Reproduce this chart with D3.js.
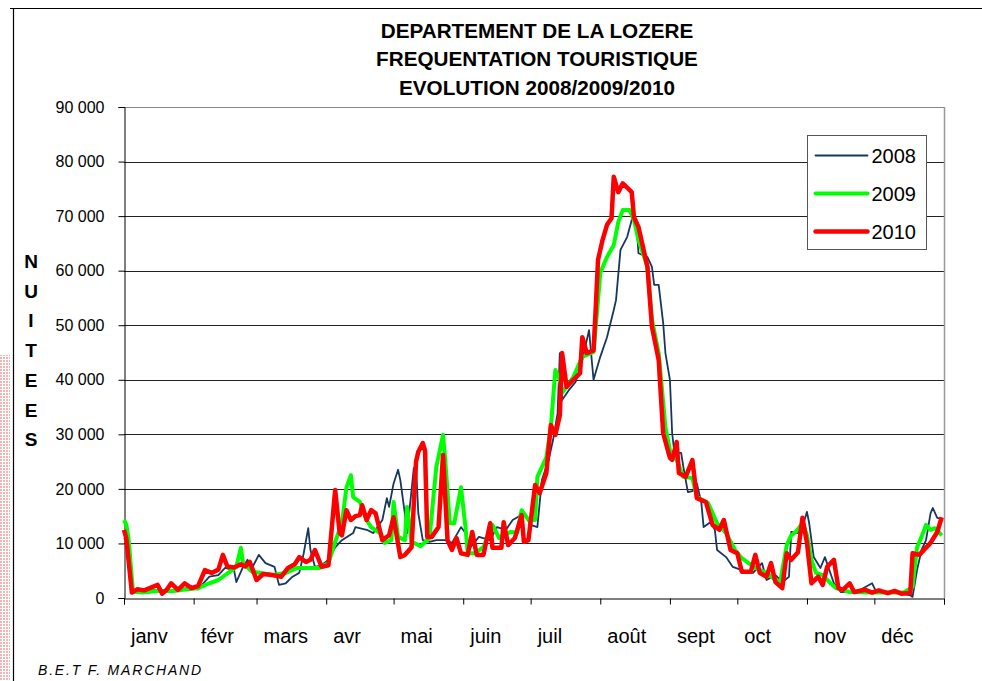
<!DOCTYPE html>
<html lang="fr">
<head>
<meta charset="UTF-8">
<title>Lozère fréquentation</title>
<script src="https://cdn.jsdelivr.net/npm/d3@7/dist/d3.min.js"></script>
<style>
  body { margin: 0; background: #fff; }
  text { font-family: "Liberation Sans", Arial, sans-serif; }
</style>
</head>
<body>
<svg width="982" height="681" id="mainsvg"></svg>
<script>
// month boundaries (day of year) and labels
const monthStarts = [0, 31, 59, 90, 120, 151, 181, 212, 243, 273, 304, 334, 365];
const monthLabels = ['janv', 'févr', 'mars', 'avr', 'mai', 'juin', 'juil', 'août', 'sept', 'oct', 'nov', 'déc'];
const yTicks = [0, 10, 20, 30, 40, 50, 60, 70, 80, 90]; // thousands

// nuitées in thousands, [day, value]
const s2008 = [[0,11],[2,10],[4,1.5],[8,1.2],[15,1.5],[22,1.4],[28,1.8],[33,1.6],[38,3.9],[42,4.2],[45,5.5],[49,5.1],[50,2.9],[53,5.7],[55,7],[57,5.5],[60,7.9],[63,6.4],[67,5.7],[69,2.4],[72,2.7],[75,3.9],[78,4.6],[80,8.2],[82,12.8],[83,8.8],[85,5.7],[88,6],[91,7],[94,9.3],[97,10.6],[102,11.9],[103,13],[108,12.5],[111,11.9],[115,14.3],[117,18.3],[118,16.7],[120,21],[122,23.5],[123,21.6],[125,15.5],[126,11.9],[128,19.8],[129,23.8],[130,24],[131,15.5],[133,10.6],[136,10.3],[139,10.6],[143,10.6],[146,10.1],[150,13],[152,11.9],[154,9.2],[158,11.2],[163,10.6],[166,13],[170,12.5],[173,14.3],[178,15.5],[181,13.4],[184,13],[186,21.6],[189,25.3],[191,29],[193,33.9],[194,44.9],[195,36.3],[198,38.1],[201,39.6],[204,43.6],[207,49.1],[209,40],[212,44.2],[215,47.8],[218,52.8],[219,54.6],[221,63.8],[224,66.2],[226,69.3],[228,69.3],[229,63.2],[233,62.5],[235,60.7],[236,57.4],[238,57.4],[240,50.4],[241,44.9],[243,40],[244,30.2],[245,26.6],[248,26.6],[249,24],[251,19.4],[253,19.6],[255,21],[257,17.4],[258,13],[261,13.9],[263,12.5],[264,8.8],[268,7.5],[271,5.7],[275,5.1],[280,4.6],[284,6.4],[286,3.3],[290,4.2],[293,2.9],[296,3.9],[297,12.1],[300,11.9],[302,13],[304,15.8],[305,13.7],[307,7.5],[310,5.5],[312,7.5],[314,5.1],[316,2.7],[319,1.1],[326,1.1],[333,2.7],[335,1.0],[345,1.0],[350,0.5],[351,0.2],[353,5.1],[355,8.8],[357,10.6],[359,15.5],[360,16.5],[362,14.7],[364,14.5]];
const s2009 = [[0,14.3],[1,13.5],[2,11],[4,1.2],[8,1.0],[15,1.3],[22,1.3],[28,1.6],[33,1.8],[38,2.7],[42,3.3],[47,4.8],[50,5.7],[52,9.2],[53,6.4],[57,4.8],[61,4.6],[66,4.2],[72,4.6],[77,5.5],[79,5.5],[87,5.5],[91,6.4],[94,10.3],[97,13.7],[99,20.2],[101,22.5],[102,18.5],[105,17.6],[108,14.3],[110,13],[114,11.9],[116,10.1],[119,10.6],[120,17.6],[122,11.2],[125,10.6],[126,16.7],[128,10.3],[132,9.5],[136,11],[139,24],[142,29.9],[143,25.3],[145,13.7],[147,13.7],[150,20.3],[152,13],[153,8.2],[156,8.2],[160,9.3],[164,13.4],[167,11],[172,12.1],[175,12],[177,16.1],[180,14.3],[183,14.3],[184,22.2],[188,25.8],[190,31.3],[192,41.8],[194,40],[195,37.6],[200,40.5],[204,44.2],[209,45.1],[211,54.6],[212,59.6],[215,62.5],[218,64.7],[220,68.9],[222,71.1],[225,71.1],[227,69.3],[229,65.6],[233,60.7],[235,51],[238,44.9],[241,31.3],[243,27.1],[246,25.3],[249,22.2],[253,22],[255,18.5],[260,17.4],[264,13.7],[268,11.9],[272,8.8],[275,7.3],[281,5.5],[286,4.6],[290,3.3],[292,2.7],[295,9.7],[297,11.5],[299,12.1],[302,13.7],[304,11.5],[306,7],[308,4.6],[311,4.2],[314,2.9],[317,1.8],[323,1.1],[332,1.0],[347,1.0],[351,2],[353,9.3],[355,11.2],[357,13.4],[359,12.5],[361,12.8],[364,11.5]];
const s2010 = [[0,12.5],[1,11],[3.5,1.0],[6,1.6],[9,1.4],[12,1.9],[15,2.4],[17,0.8],[19,1.5],[21,2.7],[24,1.5],[27,2.7],[30,1.8],[33,2.2],[36,5.1],[39,4.6],[42,5.2],[44,7.9],[46,5.8],[49,5.6],[52,6.2],[54,5.8],[56,6.6],[59,3.3],[62,4.4],[66,4.2],[70,3.9],[73,5.5],[76,6.2],[78,7.5],[81,6.6],[83,7],[85,8.8],[88,5.7],[91,6.0],[94,19.8],[96,11.9],[97,11.5],[99,16.1],[101,14.3],[103,15],[105,15.2],[106,17],[108,14.3],[110,16.1],[112,15.5],[115,10.6],[118,11.5],[120,14.8],[123,7.5],[125,7.9],[128,9.3],[130,25],[131,26.8],[133,28.4],[134,27],[135,11.2],[137,11.2],[140,13],[142,26.2],[144,10.6],[146,8.8],[148,11],[150,8.2],[153,7.9],[155,12.1],[157,7.9],[160,7.9],[163,13.7],[164,9.2],[168,9.2],[169,13.9],[171,9.7],[174,11],[177,15.2],[178,10.3],[180,10.6],[183,20.7],[185,19.2],[188,22.9],[190,31.7],[192,29.9],[194,33.5],[195,44.9],[197,38.7],[200,40],[203,41.2],[204,47.8],[206,44.9],[209,45.4],[210,53.3],[211,62],[213,65.6],[215,68.4],[217,69.6],[218,77.2],[220,74.4],[222,76],[225,74.8],[226,74.4],[227,69.8],[229,68],[233,60.7],[235,49.7],[238,43.6],[240,30.2],[243,25.7],[244,25.3],[246,28.6],[247,22.9],[250,22.2],[253,25.3],[255,18.3],[259,17.6],[262,13.4],[265,12.5],[267,14.3],[270,8.8],[273,8.2],[275,4.8],[279,4.8],[281,7.9],[283,4.6],[286,3.9],[288,6.4],[290,2.9],[293,1.8],[295,8.2],[297,7],[300,8.4],[302,14.7],[304,10.1],[306,2.7],[309,3.9],[311,2.4],[313,5.7],[316,7],[318,1.8],[320,1.5],[323,2.7],[325,1.1],[330,1.5],[333,1.0],[336,1.4],[340,0.9],[343,1.3],[346,0.8],[350,0.9],[351,8.2],[354,7.9],[359,10.1],[362,12.1],[364,14.8]];

const series = [
  { name: '2008', values: s2008, color: '#17375e', width: 1.8 },
  { name: '2009', values: s2009, color: '#00ff00', width: 4 },
  { name: '2010', values: s2010, color: '#ff0000', width: 4.5 }
];

const svg = d3.select('#mainsvg');
const plotLeft = 124, plotRight = 944, plotTop = 107, plotBottom = 598;

const x = d3.scaleLinear().domain([0, 365]).range([plotLeft, plotRight]);
const y = d3.scaleLinear().domain([0, 90]).range([plotBottom, plotTop]);

const fr = d3.formatLocale({ decimal: ',', thousands: '\u00a0', grouping: [3], currency: ['', ''] });
const fmt = fr.format(',');

// pinkish hatched strip on the left edge
const defs = svg.append('defs');
const pat = defs.append('pattern').attr('id', 'pinkdots')
  .attr('width', 3).attr('height', 3).attr('patternUnits', 'userSpaceOnUse');
pat.append('rect').attr('width', 2).attr('height', 2).attr('fill', '#f7b4b4');
svg.append('rect').attr('x', 0).attr('y', 355).attr('width', 10).attr('height', 326)
  .attr('fill', 'url(#pinkdots)');

// outer frame
svg.append('line').attr('x1', 10).attr('x2', 982).attr('y1', 8.5).attr('y2', 8.5)
  .attr('stroke', '#000').attr('stroke-width', 1.2);
svg.append('line').attr('x1', 13.5).attr('x2', 13.5).attr('y1', 8).attr('y2', 681)
  .attr('stroke', '#000').attr('stroke-width', 1.2);

// gridlines
svg.append('g').selectAll('line').data(yTicks.filter(d => d > 0)).enter()
  .append('line')
  .attr('x1', plotLeft).attr('x2', plotRight)
  .attr('y1', d => Math.round(y(d)) + 0.5).attr('y2', d => Math.round(y(d)) + 0.5)
  .attr('stroke', d => d === 90 ? '#888' : '#222').attr('stroke-width', 1);
svg.append('line').attr('x1', plotRight + 0.5).attr('x2', plotRight + 0.5)
  .attr('y1', plotTop).attr('y2', plotBottom)
  .attr('stroke', '#999').attr('stroke-width', 1.5);

// y axis
const yAxis = svg.append('g').attr('transform', `translate(${plotLeft + 0.5},0)`)
  .call(d3.axisLeft(y).tickValues(yTicks).tickSize(6).tickPadding(14).tickFormat(d => fmt(d * 1000)));
yAxis.select('.domain').attr('stroke', '#000');
yAxis.selectAll('text').attr('font-size', 16).attr('fill', '#000');

// x axis
const xAxis = svg.append('g').attr('transform', `translate(0,${plotBottom + 0.5})`)
  .call(d3.axisBottom(x).tickValues(monthStarts).tickSize(6).tickFormat(''));
xAxis.select('.domain').attr('stroke', '#000');

svg.append('g').selectAll('text').data(monthLabels).enter()
  .append('text')
  .attr('x', (d, i) => x(monthStarts[i]) + 7)
  .attr('y', 643)
  .attr('font-size', 20)
  .text(d => d);

// lines
const line = d3.line().x(d => x(d[0])).y(d => y(d[1]));
svg.append('g').selectAll('path').data(series).enter()
  .append('path')
  .attr('d', d => line(d.values))
  .attr('fill', 'none')
  .attr('stroke', d => d.color)
  .attr('stroke-width', d => d.width)
  .attr('stroke-linejoin', 'round');

// legend
const lg = svg.append('g').attr('transform', 'translate(807.5,135.5)');
lg.append('rect').attr('width', 119).attr('height', 114)
  .attr('fill', '#fff').attr('stroke', '#555').attr('stroke-width', 1);
lg.selectAll('line').data(series).enter().append('line')
  .attr('x1', 8).attr('x2', 60)
  .attr('y1', (d, i) => 20 + i * 38).attr('y2', (d, i) => 20 + i * 38)
  .attr('stroke', d => d.color).attr('stroke-width', d => d.width)
  .attr('stroke-linecap', 'round');
lg.selectAll('text').data(series).enter().append('text')
  .attr('x', 64).attr('y', (d, i) => 27 + i * 38)
  .attr('font-size', 20)
  .text(d => d.name);

// title
const titleLines = ['DEPARTEMENT DE LA LOZERE', 'FREQUENTATION TOURISTIQUE', 'EVOLUTION 2008/2009/2010'];
svg.append('g').selectAll('text').data(titleLines).enter()
  .append('text')
  .attr('x', 537).attr('y', (d, i) => 37.5 + i * 28.7)
  .attr('text-anchor', 'middle')
  .attr('font-size', 20.7).attr('font-weight', 'bold')
  .text(d => d);

// vertical axis title, stacked letters
const yTitle = ['N', 'U', 'I', 'T', 'E', 'E', 'S'];
svg.append('g').selectAll('text').data(yTitle).enter()
  .append('text')
  .attr('x', 31).attr('y', (d, i) => 268 + i * 29.7)
  .attr('text-anchor', 'middle')
  .attr('font-size', 19).attr('font-weight', 'bold')
  .text(d => d);

// footer
svg.append('text').attr('x', 38).attr('y', 675)
  .attr('font-size', 14).attr('font-style', 'italic')
  .attr('letter-spacing', 1.8)
  .text('B.E.T F. MARCHAND');
</script>
</body>
</html>
